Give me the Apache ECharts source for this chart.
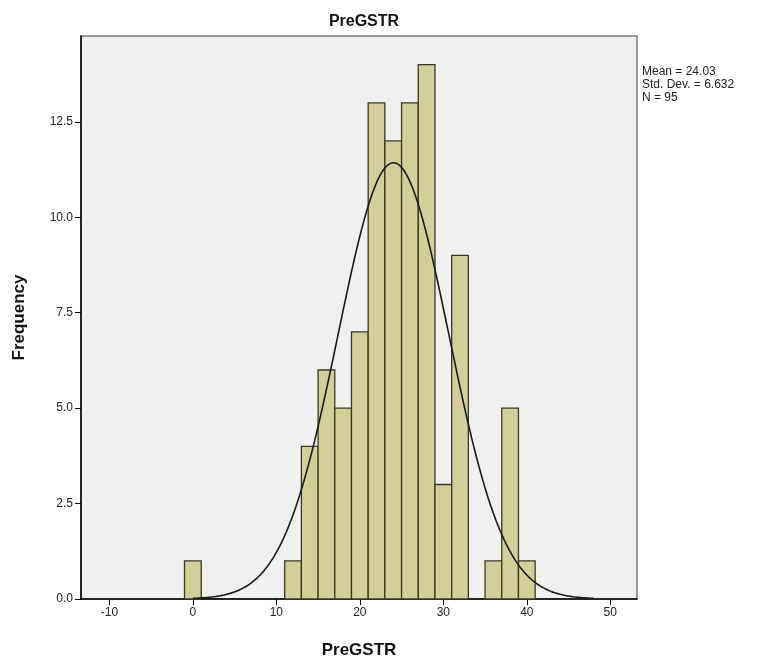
<!DOCTYPE html>
<html>
<head>
<meta charset="utf-8">
<script src="https://cdn.jsdelivr.net/npm/echarts@6/dist/echarts.min.js"></script>
<style>
  html, body { margin: 0; padding: 0; background: #fff; }
  #chart { width: 764px; height: 664px; }
</style>
</head>
<body>
<div id="chart"></div>
<script>
// histogram bins (left edge of each bin, width 2) and their counts
var binStarts = [-1, 11, 13, 15, 17, 19, 21, 23, 25, 27, 29, 31, 35, 37, 39];
var binCounts = [1, 1, 4, 6, 5, 7, 13, 12, 13, 14, 3, 9, 1, 5, 1];
var binWidth = 2;

// summary stats printed beside the chart
var statMean = 24.03;
var statSd = 6.632;
var statN = 95;

var xTicks = [-10, 0, 10, 20, 30, 40, 50];
var yTicks = [0, 2.5, 5, 7.5, 10, 12.5];

// fitted normal curve, same as SPSS draws it (scaled to counts)
var curveX = [];
for (var v = 0; v <= 48; v += 0.25) curveX.push(v);
var curvePts = curveX.map(function (x) {
  var z = (x - statMean) / statSd;
  return [x, statN * binWidth / (statSd * Math.sqrt(2 * Math.PI)) * Math.exp(-0.5 * z * z)];
});

var histData = binStarts.map(function (s, i) { return [s, s + binWidth, binCounts[i]]; });

var chart = echarts.init(document.getElementById('chart'));
var font = 'Liberation Sans, Arial, sans-serif';

var option = {
  animation: false,
  backgroundColor: '#ffffff',
  title: {
    text: 'PreGSTR',
    left: 359,
    textAlign: 'center',
    top: 9,
    textStyle: { fontFamily: font, fontSize: 16, fontWeight: 'bold', color: '#111' }
  },
  grid: {
    left: 81, right: 127, top: 36, bottom: 65,
    show: true,
    backgroundColor: '#f0f0f0',
    borderColor: '#7a7a7a',
    borderWidth: 1.5
  },
  xAxis: {
    type: 'value',
    min: -13.4,
    max: 53.2,
    name: 'PreGSTR',
    nameLocation: 'middle',
    nameGap: 43,
    nameTextStyle: { fontFamily: font, fontSize: 17, fontWeight: 'bold', color: '#111' },
    axisLine: { show: true, onZero: false, lineStyle: { color: '#000', width: 1.5 } },
    axisTick: { show: true, customValues: xTicks, length: 6, lineStyle: { color: '#000' } },
    axisLabel: { customValues: xTicks, fontFamily: font, fontSize: 12, color: '#222', margin: 8 },
    splitLine: { show: false }
  },
  yAxis: {
    type: 'value',
    min: 0,
    max: 14.75,
    name: 'Frequency',
    nameLocation: 'middle',
    nameGap: 53,
    nameTextStyle: { fontFamily: font, fontSize: 17, fontWeight: 'bold', color: '#111' },
    axisLine: { show: true, onZero: false, lineStyle: { color: '#000', width: 1.5 } },
    axisTick: { show: true, customValues: yTicks, length: 6, lineStyle: { color: '#000' } },
    axisLabel: {
      customValues: yTicks, fontFamily: font, fontSize: 12, color: '#222', margin: 8,
      formatter: function (val) { return val.toFixed(1); }
    },
    splitLine: { show: false }
  },
  graphic: [{
    type: 'text',
    left: 642,
    top: 65,
    style: {
      text: 'Mean = ' + statMean.toFixed(2) + '\nStd. Dev. = ' + statSd.toFixed(3) + '\nN = ' + statN,
      font: '12px ' + font,
      lineHeight: 13,
      fill: '#222'
    }
  }],
  series: [
    {
      type: 'custom',
      data: histData,
      encode: { x: [0, 1], y: 2 },
      renderItem: function (params, api) {
        var p0 = api.coord([api.value(0), 0]);
        var p1 = api.coord([api.value(1), api.value(2)]);
        return {
          type: 'rect',
          shape: { x: p0[0], y: p1[1], width: p1[0] - p0[0], height: p0[1] - p1[1] },
          style: { fill: '#d4cf98', stroke: '#3b3820', lineWidth: 1.3 }
        };
      },
      z: 2
    },
    {
      type: 'line',
      data: curvePts,
      showSymbol: false,
      smooth: true,
      lineStyle: { color: '#1a1a1a', width: 1.6 },
      z: 3
    }
  ]
};

chart.setOption(option);
</script>
</body>
</html>
